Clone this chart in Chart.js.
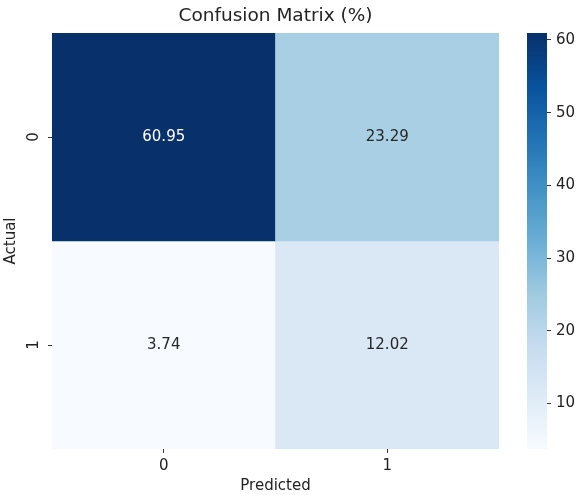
<!DOCTYPE html>
<html>
<head>
<meta charset="utf-8">
<script src="https://cdn.jsdelivr.net/npm/chart.js@4.4.1/dist/chart.umd.min.js"></script>
<style>
  html, body { margin: 0; padding: 0; background: #fff; }
  #wrap { position: relative; width: 582px; height: 495px; }
  #heat { position: absolute; left: 0; top: 0; }
  #cbar { position: absolute; left: 505px; top: 0; }
</style>
</head>
<body>
<div id="wrap">
  <canvas id="heat" width="582" height="495"></canvas>
  <canvas id="cbar" width="77" height="495"></canvas>
</div>
<script>
// confusion matrix values (%)
const predictedLabels = ['0', '1'];
const actualLabels = ['0', '1'];
const actual0 = [60.95, 23.29];
const actual1 = [3.74, 12.02];
const colorbarTicks = [10, 20, 30, 40, 50, 60];

const rows = [actual0, actual1];
const allValues = actual0.concat(actual1);
const vmin = Math.min(...allValues);
const vmax = Math.max(...allValues);

// matplotlib "Blues"
const blues = ['#f7fbff', '#deebf7', '#c6dbef', '#9ecae1', '#6baed6',
               '#4292c6', '#2171b5', '#08519c', '#08306b'];

function hexRgb(h) {
    return [parseInt(h.substr(1, 2), 16), parseInt(h.substr(3, 2), 16), parseInt(h.substr(5, 2), 16)];
}

function bluesAt(v) {
    let t = (v - vmin) / (vmax - vmin);
    t = Math.max(0, Math.min(1, t));
    const pos = t * (blues.length - 1);
    const i = Math.min(Math.floor(pos), blues.length - 2);
    const f = pos - i;
    const a = hexRgb(blues[i]), b = hexRgb(blues[i + 1]);
    const c = a.map((x, k) => Math.round(x + (b[k] - x) * f));
    return 'rgb(' + c.join(',') + ')';
}

const FONT = "'DejaVu Sans', sans-serif";
const TXT = '#222';

// write the number in the middle of each cell
const cellText = {
    id: 'cellText',
    afterDatasetsDraw(chart) {
        const ctx = chart.ctx;
        ctx.save();
        ctx.font = '15px ' + FONT;
        ctx.textAlign = 'center';
        ctx.textBaseline = 'middle';
        chart.data.datasets.forEach((ds, di) => {
            chart.getDatasetMeta(di).data.forEach((bar, i) => {
                const v = rows[di][i];
                const t = (v - vmin) / (vmax - vmin);
                ctx.fillStyle = t > 0.6 ? '#ffffff' : '#262626';
                ctx.fillText(v.toFixed(2), bar.x, (bar.y + bar.base) / 2);
            });
        });
        ctx.restore();
    }
};

new Chart(document.getElementById('heat').getContext('2d'), {
    type: 'bar',
    data: {
        labels: predictedLabels,
        datasets: rows.map((r, ri) => ({
            label: 'Actual ' + actualLabels[ri],
            data: r.map(() => [ri, ri + 1]),
            backgroundColor: r.map(v => bluesAt(v)),
            borderWidth: 0,
            barPercentage: 1,
            categoryPercentage: 1,
            grouped: false
        }))
    },
    options: {
        responsive: false,
        animation: false,
        layout: { padding: { left: 0, right: 83, top: 0, bottom: 0 } },
        plugins: {
            legend: { display: false },
            tooltip: { enabled: false },
            title: {
                display: true,
                fullSize: false,
                text: 'Confusion Matrix (%)',
                color: TXT,
                font: { family: FONT, size: 18.5, weight: 'normal', lineHeight: 1.2 },
                padding: { top: 5, bottom: 5.8 }
            }
        },
        scales: {
            x: {
                offset: true,
                border: { display: false },
                grid: { offset: false, drawOnChartArea: false, drawTicks: true, tickLength: 4, color: '#333' },
                ticks: { color: TXT, padding: 4, font: { family: FONT, size: 15 } },
                title: { display: true, text: 'Predicted', color: TXT, padding: { top: 0, bottom: 0 },
                         font: { family: FONT, size: 15, lineHeight: 1.2 } },
                afterFit(s) { s.height = 46; }
            },
            y: {
                type: 'linear',
                min: 0,
                max: 2,
                reverse: true,
                border: { display: false },
                grid: { drawOnChartArea: false, drawTicks: true, tickLength: 4, color: '#333' },
                afterBuildTicks(s) { s.ticks = actualLabels.map((l, i) => ({ value: i + 0.5 })); },
                ticks: {
                    color: TXT, padding: 9, minRotation: 90, maxRotation: 90, crossAlign: 'center',
                    font: { family: FONT, size: 15 },
                    callback: (v, i) => actualLabels[i]
                },
                title: { display: true, text: 'Actual', color: TXT, padding: { top: 2, bottom: 0 },
                         font: { family: FONT, size: 15, lineHeight: 1.2 } },
                afterFit(s) { s.width = 52; }
            }
        }
    },
    plugins: [cellText]
});

// colorbar
new Chart(document.getElementById('cbar').getContext('2d'), {
    type: 'bar',
    data: {
        labels: [''],
        datasets: [{
            data: [[vmin, vmax]],
            borderWidth: 0,
            barPercentage: 1,
            categoryPercentage: 1,
            backgroundColor(c) {
                const a = c.chart.chartArea;
                if (!a) return blues[4];
                const g = c.chart.ctx.createLinearGradient(0, a.bottom, 0, a.top);
                blues.forEach((col, i) => g.addColorStop(i / (blues.length - 1), col));
                return g;
            }
        }]
    },
    options: {
        responsive: false,
        animation: false,
        layout: { padding: { left: 22, right: 0, top: 33, bottom: 46 } },
        plugins: { legend: { display: false }, tooltip: { enabled: false } },
        scales: {
            x: { display: false },
            y: {
                position: 'right',
                min: vmin,
                max: vmax,
                border: { display: false },
                grid: { drawOnChartArea: false, drawTicks: true, tickLength: 4, color: '#333' },
                afterBuildTicks(s) { s.ticks = colorbarTicks.map(v => ({ value: v })); },
                ticks: { color: TXT, padding: 5, font: { family: FONT, size: 15 } },
                afterFit(s) { s.width = 35; }
            }
        }
    }
});
</script>
</body>
</html>
